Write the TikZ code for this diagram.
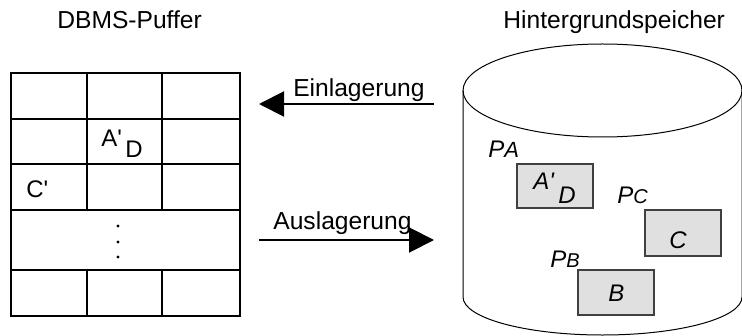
\documentclass[tikz,border=0pt]{standalone}
\usepackage{fontspec}
\setmainfont{Liberation Sans}
\usetikzlibrary{arrows.meta}
\tikzset{
  cell/.style={line width=0.65pt},
  page/.style={draw=black!75, fill=black!12, line width=0.6pt},
  move/.style={-{Triangle[length=12.5pt,width=12.5pt]}, line width=1pt},
  big/.style={inner sep=0pt, font=\fontsize{12.3}{14}\selectfont},
  small/.style={inner sep=0pt, font=\fontsize{12}{14}\selectfont},
  slant/.style={inner sep=0pt, font=\fontsize{12}{14}\selectfont\itshape},
}
\newcommand{\tick}{\textquotesingle}
\begin{document}
\begin{tikzpicture}[x=0.5pt,y=-0.5pt]
  \useasboundingbox (0,0) rectangle (742,336);
  % titles
  \node[big, anchor=base west] (puffer) at (57,29) {DBMS-Puffer};
  \node[big, anchor=base west] (speicher) at (503,29) {Hintergrundspeicher};
  % buffer
  \draw[cell] (11,73) rectangle (240,316);
  \foreach \y in {119,164,210,270}
    \draw[cell] (11,\y) -- (240,\y);
  \foreach \x in {87,162} {
    \draw[cell] (\x,73) -- (\x,210);
    \draw[cell] (\x,270) -- (\x,316);
  }
  \foreach \y in {226,242,257}
    \fill (118,\y) circle (0.8pt);
  \node[small, anchor=base west] (ba) at (101,147) {A\tick};
  \node[small, anchor=base west] (bd) at (125,158) {D};
  \node[small, anchor=base west] (bc) at (26,197) {C\tick};
  % disk
  \draw[line width=0.5pt] (602.5,90.5) ellipse (139.5 and 46.5);
  \draw[line width=0.5pt] (463,90.5) -- (463,297)
    arc[start angle=180, end angle=0, x radius=139.5, y radius=38] -- (742,90.5);
  \draw[page] (517,164) rectangle (593,208);
  \draw[page] (645,210) rectangle (721,256);
  \draw[page] (578,270) rectangle (654,315);
  \node[slant, anchor=base west] (pa) at (488,157) {P\fontsize{11}{13}\selectfont A};
  \node[slant, anchor=base west] (pc) at (617,203) {P\fontsize{10}{12}\selectfont C};
  \node[slant, anchor=base west] (pb) at (550,267) {P\fontsize{10}{12}\selectfont B};
  \node[slant, anchor=base west] (da) at (533,190) {A\tick};
  \node[slant, anchor=base west] (dd) at (558,203) {D};
  \node[slant, anchor=base west] (dc) at (669,248) {C};
  \node[slant, anchor=base west] (db) at (608,301) {B};
  % transfers
  \coordinate (einfrom) at (434,104);
  \coordinate (einto) at (259,104);
  \coordinate (ausfrom) at (259,240);
  \coordinate (austo) at (434,240);
  \draw[move] (einfrom) -- (einto);
  \draw[move] (ausfrom) -- (austo);
  \node[big, anchor=base east] (ein) at (425,97) {Einlagerung};
  \node[big, anchor=base west] (aus) at (273,229) {Auslagerung};
\end{tikzpicture}
\end{document}
